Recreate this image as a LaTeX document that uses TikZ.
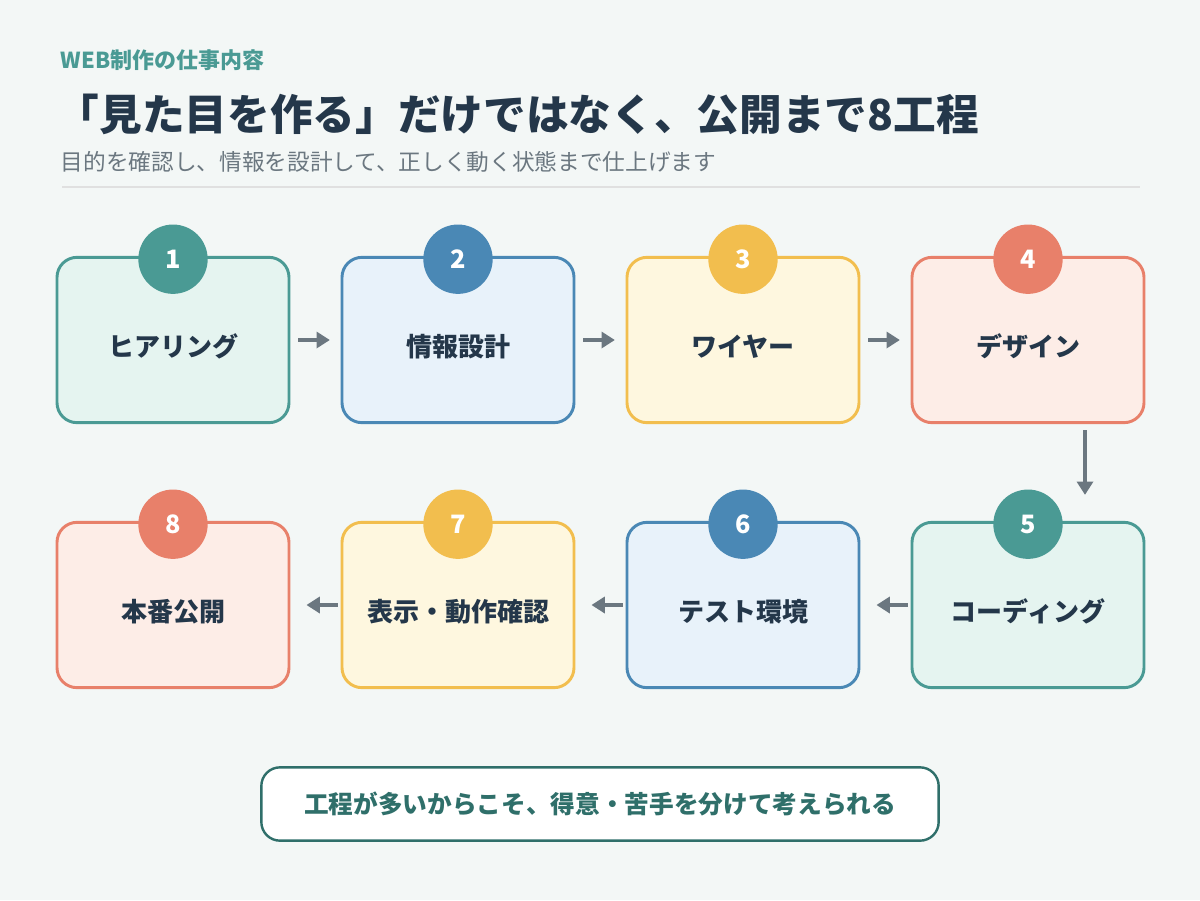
\documentclass[tikz,border=0pt]{standalone}
\usepackage{fontspec}
\setmainfont{Noto Sans CJK JP}
\usetikzlibrary{arrows.meta,positioning}
\definecolor{bgcol}{HTML}{F3F7F6}
\definecolor{inkcol}{HTML}{24374A}
\definecolor{graycol}{HTML}{6B7780}
\definecolor{tealcol}{HTML}{4A9A94}
\definecolor{tealfill}{HTML}{E5F4F0}
\definecolor{bluecol}{HTML}{4A88B5}
\definecolor{bluefill}{HTML}{E8F2FA}
\definecolor{yelcol}{HTML}{F2BE4E}
\definecolor{yelfill}{HTML}{FEF7DF}
\definecolor{redcol}{HTML}{E8806A}
\definecolor{redfill}{HTML}{FDEDE7}
\definecolor{darkteal}{HTML}{2F6F6A}
\tikzset{
  step/.style={draw=#1col,fill=#1fill,line width=2.2pt,rounded corners=15pt,
    minimum width=174pt,minimum height=124pt,text height=30pt,text depth=5pt,
    font=\bfseries\fontsize{19.5}{22}\selectfont,text=inkcol},
  num/.style={circle,fill=#1col,minimum size=52pt,inner sep=0pt,text=white,
    font=\bfseries\fontsize{19}{22}\selectfont},
  flow/.style={graycol,line width=3pt,-{Triangle[length=10pt,width=12pt]}}
}
\begin{document}
\begin{tikzpicture}[x=0.75pt,y=-0.75pt]
  \fill[bgcol] (0,0) rectangle (1200,900);
  \useasboundingbox (0,0) rectangle (1200,900);
  % heading
  \node[anchor=west,text=tealcol,font=\bfseries\fontsize{16.5}{18}\selectfont] (kicker) at (56,60) {WEB制作の仕事内容};
  \node[anchor=west,text=inkcol,font=\bfseries\fontsize{32}{36}\selectfont] (title) at (52,114) {「見た目を作る」だけではなく、公開まで8工程};
  \node[anchor=west,text=graycol,font=\fontsize{17}{19}\selectfont] (sub) at (56,162) {目的を確認し、情報を設計して、正しく動く状態まで仕上げます};
  \draw[black!12,line width=1.5pt] (62,187) -- (1140,187);
  % steps
  \node[step=teal] (s1) at (173,340) {ヒアリング};
  \node[step=blue] (s2) at (458,340) {情報設計};
  \node[step=yel]  (s3) at (743,340) {ワイヤー};
  \node[step=red]  (s4) at (1028,340) {デザイン};
  \node[step=teal] (s5) at (1028,605) {コーディング};
  \node[step=blue] (s6) at (743,605) {テスト環境};
  \node[step=yel]  (s7) at (458,605) {表示・動作確認};
  \node[step=red]  (s8) at (173,605) {本番公開};
  \foreach \i/\c in {1/teal,2/blue,3/yel,4/red,5/teal,6/blue,7/yel,8/red}
    \node[num=\c] (n\i) at ([yshift=-2.5pt]s\i.north) {\i};
  % connectors
  \draw[flow] ([xshift=6]s1.east) -- ([xshift=-8]s2.west);
  \draw[flow] ([xshift=6]s2.east) -- ([xshift=-8]s3.west);
  \draw[flow] ([xshift=6]s3.east) -- ([xshift=-8]s4.west);
  \draw[flow] ([shift={(57,6)}]s4.south) -- ([shift={(57,-26)}]s5.north);
  \draw[flow] ([xshift=-2]s5.west) -- ([xshift=12]s6.east);
  \draw[flow] ([xshift=-2]s6.west) -- ([xshift=12]s7.east);
  \draw[flow] ([xshift=-2]s7.west) -- ([xshift=12]s8.east);
  % note
  \node[draw=darkteal,fill=white,line width=1.8pt,rounded corners=14pt,minimum width=508pt,
    minimum height=55pt,text=darkteal,font=\bfseries\fontsize{18.5}{21}\selectfont] (note) at (600,804)
    {工程が多いからこそ、得意・苦手を分けて考えられる};
\end{tikzpicture}
\end{document}
